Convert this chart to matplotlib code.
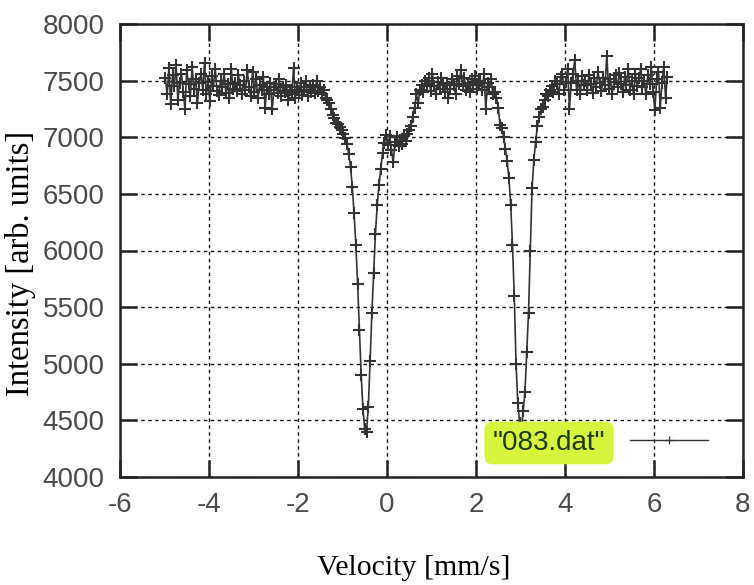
import numpy as np
import matplotlib
matplotlib.use("Agg")
import matplotlib.pyplot as plt

# ---- data ----
velocity_start = -4.98   # mm/s, first channel
velocity_step = 0.04     # mm/s per channel

counts_baseline_left = [
    7520, 7380, 7610, 7290, 7550, 7450, 7640, 7330, 7480, 7560,
    7400, 7250, 7590, 7470, 7360, 7620, 7430, 7510, 7300, 7480,
    7560, 7420, 7660, 7380, 7490, 7320, 7540, 7450, 7600, 7410,
    7370, 7500, 7440, 7560, 7390, 7470, 7350, 7600, 7430, 7480,
    7410, 7550, 7460, 7380, 7500, 7420, 7590, 7440, 7360, 7580,
    7400, 7510, 7350, 7460, 7420, 7530, 7260, 7440, 7380, 7480,
    7250, 7420, 7470, 7390, 7510, 7360, 7440, 7400, 7460, 7330,
    7420, 7380, 7610, 7350, 7440, 7400, 7480, 7370, 7420, 7500,
    7360, 7440, 7400, 7460, 7390, 7500, 7410, 7440,
]
counts_dip1 = [
    7380, 7420, 7350, 7330, 7300, 7250, 7200, 7170, 7130, 7120,
    7090, 7060, 7030, 6990, 6940, 6850, 6740, 6560, 6330, 6050,
    5700, 5300, 4900, 4600, 4420, 4400, 4620, 5020, 5450, 5800,
    6150, 6400, 6580, 6720, 6860, 6950, 7020,
    6930, 7010, 6890, 6780, 6960, 7000, 6920, 6980, 6940, 7010,
    6970, 7030, 7060, 7100, 7180, 7260, 7380, 7300, 7420, 7460,
    7400, 7500,
]
counts_hump = [
    7470, 7520, 7410, 7560, 7450, 7380, 7490, 7430, 7520, 7460,
    7400, 7480, 7350, 7430, 7510, 7460, 7380, 7540, 7470, 7590,
    7450, 7520, 7420, 7480, 7400, 7510, 7460, 7540, 7430, 7480,
    7500, 7420, 7560, 7250, 7480, 7440, 7510, 7380,
]
counts_dip2 = [
    7400, 7350, 7260, 7110, 7080, 7000, 6900, 6790, 6640, 6400,
    6050, 5600, 5000, 4650, 4480, 4420, 4580, 4750, 5100, 5450,
    6000, 6550, 6800, 6960, 7100, 7180, 7250, 7270, 7330, 7380,
    7360, 7420,
]
counts_baseline_right = [
    7450, 7400, 7500, 7470, 7380, 7530, 7560, 7420, 7490, 7600,
    7250, 7480, 7560, 7680, 7420, 7500, 7380, 7540, 7460, 7500,
    7420, 7550, 7470, 7390, 7520, 7440, 7580, 7480, 7410, 7520,
    7460, 7720, 7430, 7510, 7380, 7490, 7550, 7440, 7570, 7470,
    7400, 7530, 7460, 7600, 7420, 7500, 7380, 7560, 7450, 7520,
    7600, 7440, 7500, 7380, 7550, 7470, 7620, 7400, 7240, 7510,
    7580, 7260, 7480, 7620, 7350, 7530,
]
series_label = '"083.dat"'
x_ticks = [-6, -4, -2, 0, 2, 4, 6, 8]
y_ticks = [4000, 4500, 5000, 5500, 6000, 6500, 7000, 7500, 8000]

counts = np.array(counts_baseline_left + counts_dip1 + counts_hump
                  + counts_dip2 + counts_baseline_right, dtype=float)
velocity = velocity_start + velocity_step * np.arange(len(counts))

# ---- figure ----
W, H = 754, 585
fig = plt.figure(figsize=(W / 100, H / 100), dpi=100)
L, R, T, B = 120, 743, 24, 477
ax = fig.add_axes([L / W, 1 - B / H, (R - L) / W, (B - T) / H])

ink = "#333333"
ax.plot(velocity, counts, color=ink, lw=1.2, marker="+", ms=8.5, mew=1.5,
        label=series_label, zorder=3)

ax.set_xlim(-6, 8)
ax.set_ylim(4000, 8000)
ax.set_xticks(x_ticks)
ax.set_yticks(y_ticks)
ax.set_xticklabels([str(t) for t in x_ticks])
ax.set_yticklabels([str(t) for t in y_ticks])

ax.grid(True, color="#111111", lw=1.0, linestyle=(0, (2.5, 2.5)))
ax.tick_params(direction="in", length=12, width=1.8, color="#222222",
               top=True, right=True, labelsize=20, labelcolor="#4a4a4a",
               pad=11)
for lab in ax.get_xticklabels() + ax.get_yticklabels():
    lab.set_family("Liberation Sans")
for s in ax.spines.values():
    s.set_linewidth(1.8)
    s.set_color("#222222")

ax.set_xlabel("Velocity [mm/s]", family="Liberation Serif", size=21.5,
              va="center")
ax.xaxis.set_label_coords((414 - L) / (R - L), -(568 - B) / (B - T))
ax.set_ylabel("Intensity [arb. units]", family="Liberation Serif", size=23.5,
              va="center")
ax.yaxis.set_label_coords(-(L - 21) / (R - L), (B - 263) / (B - T))

leg = ax.legend(loc="center right", markerfirst=False, frameon=False,
                bbox_to_anchor=((708 - L) / (R - L), (B - 443) / (B - T)),
                borderpad=0, borderaxespad=0, handlelength=2.8,
                handletextpad=0.9, prop={"family": "Liberation Sans", "size": 20})
for t in leg.get_texts():
    t.set_color("#1f3a12")
    t.set_bbox(dict(facecolor="#d6f53c", edgecolor="none",
                    boxstyle="round,pad=0.3"))
for h in leg.legend_handles:
    h.set_markersize(6)
    h.set_markeredgewidth(0.9)
    h.set_linewidth(1.0)

fig.savefig("out.png", dpi=100)
